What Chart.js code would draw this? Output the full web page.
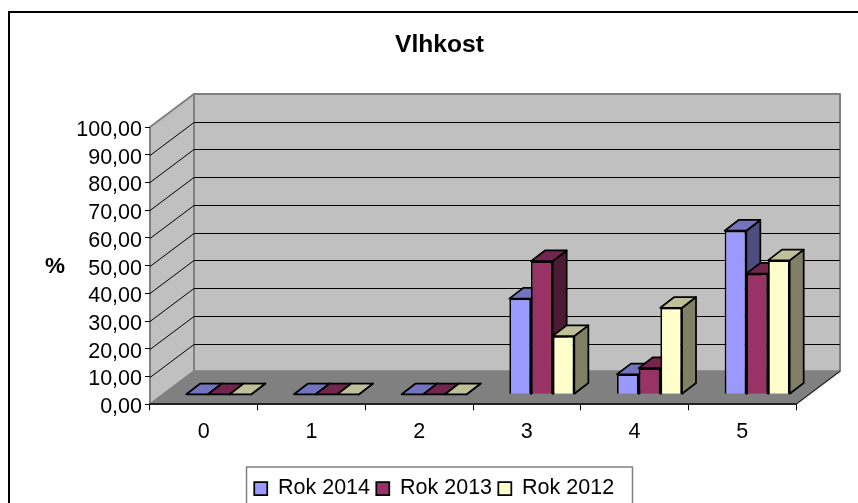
<!DOCTYPE html>
<html><head><meta charset="utf-8">
<style>html,body{margin:0;padding:0;background:#fff}canvas{display:block}</style>
<script src="https://cdn.jsdelivr.net/npm/chart.js@4"></script></head>
<body><canvas id="c" width="858" height="503"></canvas>
<script>
const categories = ['0','1','2','3','4','5'];
const rok2014 = [0,0,0,34.5,7.2,59];
const rok2013 = [0,0,0,48,9.4,43.5];
const rok2012 = [0,0,0,21,31.2,48.3];
const seriesNames = ['Rok 2014','Rok 2013','Rok 2012'];
const frontColors = ['#9999FF','#993366','#FFFFCC'];
const topColors = ['#7373BF','#73264D','#BFBF99'];
const sideColors = ['#4D4D80','#4D1A33','#808066'];
const chartTitle = 'Vlhkost';
const axisTitle = '%';
const FONT = '"Liberation Sans", Arial, sans-serif';
const FS = 21.5;
const WALL = {dx:44, dy:-33};
const BAR_SHIFT = {dx:15, dy:-10};
const BAR_DEPTH = {dx:14, dy:-10.7};

function poly(ctx, pts, fill, stroke, lw){
  ctx.beginPath();
  pts.forEach((p,i)=> i?ctx.lineTo(p[0],p[1]):ctx.moveTo(p[0],p[1]));
  ctx.closePath();
  if(fill){ctx.fillStyle=fill;ctx.fill();}
  if(stroke){ctx.strokeStyle=stroke;ctx.lineWidth=lw||1;ctx.lineJoin='round';ctx.stroke();}
}
const threeD = {
  id:'threeD',
  beforeDraw(chart){
    const ctx=chart.ctx, a=chart.chartArea, y=chart.scales.y;
    const {left:L,right:R,top:T,bottom:B}=a, dx=WALL.dx, dy=WALL.dy;
    ctx.save();
    ctx.fillStyle='#fff';ctx.fillRect(0,0,chart.width,chart.height);
    ctx.strokeStyle='#000';ctx.lineWidth=2;
    ctx.beginPath();ctx.moveTo(9,520);ctx.lineTo(9,12);ctx.lineTo(870,12);ctx.stroke();
    poly(ctx,[[L+dx,T+dy],[R+dx,T+dy],[R+dx,B+dy],[L+dx,B+dy]],'#C0C0C0','#808080',2);
    poly(ctx,[[L,T],[L+dx,T+dy],[L+dx,B+dy],[L,B]],'#C0C0C0','#808080',2);
    poly(ctx,[[L,B],[L+dx,B+dy],[R+dx,B+dy],[R,B]],'#808080');
    ctx.strokeStyle='#808080';ctx.lineWidth=1.5;
    ctx.beginPath();ctx.moveTo(L,B);ctx.lineTo(L+dx,B+dy);ctx.stroke();
    ctx.strokeStyle='#222';ctx.lineWidth=1.2;
    ctx.beginPath();ctx.moveTo(R,B);ctx.lineTo(R+dx,B+dy);ctx.stroke();
    ctx.strokeStyle='#000';ctx.lineWidth=1;
    y.ticks.forEach(t=>{
      if(t.value===0||t.value===100)return;
      const p=Math.round(y.getPixelForValue(t.value))+0.5;
      ctx.beginPath();ctx.moveTo(L,p);ctx.lineTo(L+dx,p+dy);ctx.lineTo(R+dx,p+dy);ctx.stroke();
    });
    const lg=chart.legend;
    const w=lg.right-lg.left, h=lg.bottom-lg.top;
    lg.left=248; lg.right=248+w; lg.top=471.5; lg.bottom=471.5+h;
    ctx.strokeStyle='#808080';ctx.lineWidth=1.5;
    ctx.strokeRect(246.5,467,386,60);
    const tb=chart.titleBlock, tw=tb.right-tb.left;
    tb.left=439.5-tw/2; tb.right=439.5+tw/2;
    ctx.fillStyle='#000';ctx.font='bold 22.5px '+FONT;
    ctx.textAlign='center';ctx.textBaseline='middle';
    ctx.fillText(axisTitle,55,267);
    ctx.restore();
  },
  beforeDatasetDraw(){ return false; },
  afterDatasetsDraw(chart){
    const ctx=chart.ctx;
    ctx.save();
    ctx.translate(BAR_SHIFT.dx,BAR_SHIFT.dy);
    [0,1,2].forEach(i=>{
      const meta=chart.getDatasetMeta(i);
      meta.data.forEach(b=>{
        const l=b.x-b.width/2, r=b.x+b.width/2, t=b.y, bs=b.base, dx=BAR_DEPTH.dx, dy=BAR_DEPTH.dy;
        poly(ctx,[[r,t],[r+dx,t+dy],[r+dx,bs+dy],[r,bs]],sideColors[i],'#000',1.75);
        poly(ctx,[[l,t],[l+dx,t+dy],[r+dx,t+dy],[r,t]],topColors[i],'#000',1.75);
      });
      meta.controller.draw();
    });
    ctx.restore();
  }
};
const values=[rok2014,rok2013,rok2012];
new Chart(document.getElementById('c'),{
  type:'bar',
  data:{labels:categories,datasets:seriesNames.map((n,i)=>({
    label:n,data:values[i],backgroundColor:frontColors[i],borderColor:'#000',borderWidth:1.75,
    clip:false,categoryPercentage:0.604,barPercentage:1
  }))},
  options:{
    responsive:false,animation:false,
    layout:{padding:{left:0,right:62,top:0,bottom:0}},
    plugins:{
      title:{display:true,text:chartTitle,color:'#000',font:{family:FONT,size:24.6,weight:'bold'},padding:{top:30.3,bottom:67.2}},
      legend:{display:true,position:'bottom',align:'start',
        labels:{boxWidth:13,boxHeight:13,padding:6.25,color:'#000',font:{family:FONT,size:FS}}},
      tooltip:{enabled:false}
    },
    scales:{
      x:{
        afterFit(s){s.height=503-404-38;},
        grid:{display:true,offset:true,drawOnChartArea:false,drawTicks:true,tickLength:6,tickColor:'#000',tickWidth:1},
        border:{display:true,color:'#222',width:2},
        ticks:{color:'#000',font:{family:FONT,size:FS},padding:9,maxRotation:0}
      },
      y:{
        min:0,max:100,
        afterFit(s){s.width=150;},
        grid:{display:true,drawOnChartArea:false,drawTicks:true,tickLength:5,tickColor:'#000',tickWidth:1},
        border:{display:false},
        ticks:{stepSize:10,autoSkip:false,color:'#000',font:{family:FONT,size:FS},padding:3,labelOffset:3,
          callback:v=>v.toFixed(2).replace('.',',')}
      }
    }
  },
  plugins:[threeD]
});
</script></body></html>
